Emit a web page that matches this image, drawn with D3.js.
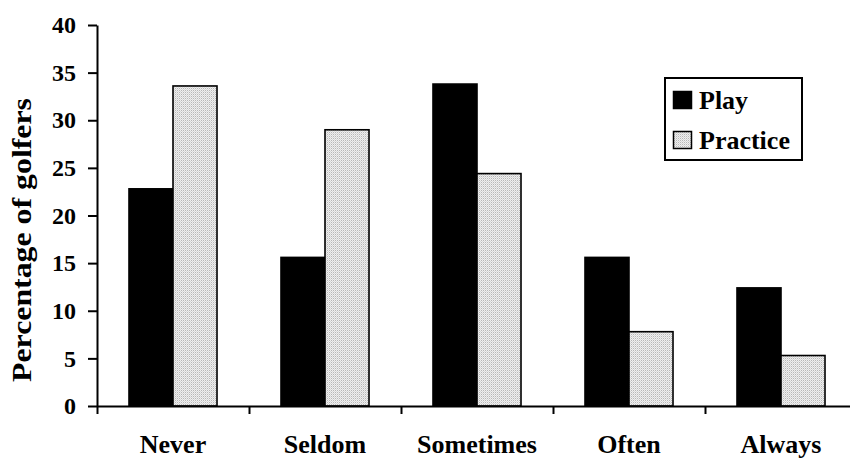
<!DOCTYPE html>
<html>
<head>
<meta charset="utf-8">
<script src="https://cdn.jsdelivr.net/npm/d3@7"></script>
<style>
html,body{margin:0;padding:0;background:#fff;}
svg{display:block;}
svg text{font-family:"Liberation Serif","DejaVu Serif","Times New Roman",Times,serif;font-weight:bold;fill:#000;}
</style>
</head>
<body>
<svg id="chart" width="850" height="458"></svg>
<script>
const categories = ["Never", "Seldom", "Sometimes", "Often", "Always"];
const seriesNames = ["Play", "Practice"];
const playValues = [22.8, 15.6, 33.8, 15.6, 12.4];
const practiceValues = [33.6, 29.0, 24.4, 7.8, 5.3];
const yTicks = [0, 5, 10, 15, 20, 25, 30, 35, 40];
const yTitle = "Percentage of golfers";

(function () {
const svg = d3.select("#chart");
const mLeft = 97, mTop = 25, mBottom = 406, mRight = 857;
const FONT = '"Liberation Serif","DejaVu Serif","Times New Roman",Times,serif';

const defs = svg.append("defs");
const pat = defs.append("pattern").attr("id", "dots")
  .attr("width", 2).attr("height", 2).attr("patternUnits", "userSpaceOnUse");
pat.append("rect").attr("width", 2).attr("height", 2).attr("fill", "#efefef");
pat.append("rect").attr("x", 0).attr("y", 0).attr("width", 1).attr("height", 1).attr("fill", "#b8b8b8");
pat.append("rect").attr("x", 1).attr("y", 1).attr("width", 1).attr("height", 1).attr("fill", "#d8d8d8");

const fills = {Play: "#000", Practice: "url(#dots)"};

const x0 = d3.scaleBand().domain(categories).range([mLeft, mRight]).paddingInner(0).paddingOuter(0);
const x1 = d3.scaleBand().domain(seriesNames).range([0, x0.bandwidth()]).paddingInner(0).paddingOuter(0.727);
const y = d3.scaleLinear().domain([0, 40]).range([mBottom, mTop]);

const data = categories.map((c, i) => ({cat: c, values: [
  {s: "Play", v: playValues[i]}, {s: "Practice", v: practiceValues[i]}]}));

const groups = svg.append("g").selectAll("g").data(data).join("g")
  .attr("transform", d => `translate(${x0(d.cat)},0)`);
groups.selectAll("rect").data(d => d.values).join("rect")
  .attr("x", d => x1(d.s))
  .attr("y", d => y(d.v))
  .attr("width", x1.bandwidth())
  .attr("height", d => y(0) - y(d.v))
  .attr("fill", d => fills[d.s])
  .attr("stroke", "#000").attr("stroke-width", 1.6);

// Y axis
const yAxis = svg.append("g").attr("transform", `translate(${mLeft},0)`)
  .call(d3.axisLeft(y).tickValues(yTicks).tickSize(9).tickPadding(12).tickSizeOuter(0));
yAxis.attr("font-family", FONT).attr("font-size", 24);
yAxis.select(".domain").attr("stroke", "#000").attr("stroke-width", 2);
yAxis.selectAll(".tick line").attr("stroke", "#000").attr("stroke-width", 2);
yAxis.selectAll(".tick text").style("font-family", FONT)
  .style("font-weight", "bold").style("font-size", "24px").attr("fill", "#000");

// X axis (ticks at category boundaries)
const xb = d3.scaleLinear().domain([0, categories.length]).range([mLeft, mRight]);
const xAxis = svg.append("g").attr("transform", `translate(0,${mBottom})`)
  .call(d3.axisBottom(xb).tickValues(d3.range(categories.length + 1)).tickFormat("").tickSize(8).tickSizeOuter(0));
xAxis.select(".domain").attr("stroke", "#000").attr("stroke-width", 2);
xAxis.selectAll(".tick line").attr("stroke", "#000").attr("stroke-width", 2);

svg.append("g").selectAll("text").data(categories).join("text")
  .attr("x", d => x0(d) + x0.bandwidth() / 2)
  .attr("y", 453)
  .attr("text-anchor", "middle")
  .style("font-family", FONT).style("font-weight", "bold")
  .style("font-size", "26px")
  .text(d => d);

// Y title
svg.append("text")
  .attr("transform", "translate(31,240) rotate(-90)")
  .attr("text-anchor", "middle")
  .attr("textLength", 284)
  .attr("lengthAdjust", "spacingAndGlyphs")
  .style("font-family", FONT).style("font-weight", "bold")
  .style("font-size", "27px")
  .text(yTitle);

// Legend
const lg = svg.append("g");
lg.append("rect").attr("x", 665).attr("y", 78).attr("width", 137).attr("height", 82)
  .attr("fill", "#fff").attr("stroke", "#000").attr("stroke-width", 2);
const items = lg.selectAll("g.item").data(seriesNames).join("g").attr("class", "item")
  .attr("transform", (d, i) => `translate(0,${i * 40})`);
items.append("rect").attr("x", 673.5).attr("y", 91.5).attr("width", 18).attr("height", 17)
  .attr("fill", d => fills[d]).attr("stroke", "#000").attr("stroke-width", 1.5);
items.append("text").attr("x", 699).attr("y", 109)
  .style("font-family", FONT).style("font-weight", "bold")
  .style("font-size", "26px").text(d => d);
})();
</script>
</body>
</html>
